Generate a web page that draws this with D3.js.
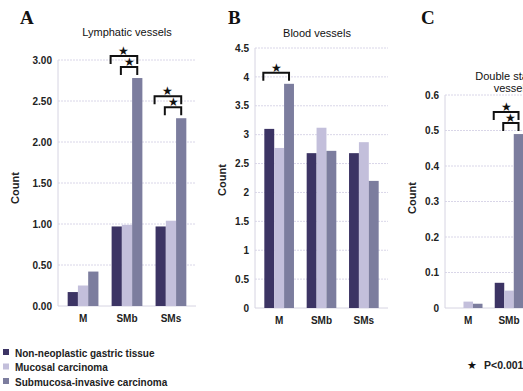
<!DOCTYPE html>
<html>
<head>
<meta charset="utf-8">
<script src="https://cdn.jsdelivr.net/npm/d3@7"></script>
<style>
  body { margin: 0; background: #fff; }
  svg { display: block; font-family: "Liberation Sans", Arial, sans-serif; }
  .tick text { font-size: 10px; font-weight: bold; fill: #222; }
  .grid line { stroke: #d9d6e8; stroke-dasharray: 2,1; }
</style>
</head>
<body>
<svg id="chart" width="523" height="391"></svg>
<script>
/* Three grouped-bar panels: vessel counts by invasion depth */
const categories = ["M", "SMb", "SMs"];
const groups = ["Non-neoplastic gastric tissue", "Mucosal carcinoma", "Submucosa-invasive carcinoma"];
const colors = ["#3c3464", "#c3bfdb", "#7c7d9e"];

// values per category, order = groups
const lymphatic = [[0.17, 0.25, 0.42], [0.97, 0.99, 2.78], [0.97, 1.04, 2.29]];
const blood = [[3.10, 2.77, 3.88], [2.68, 3.12, 2.72], [2.68, 2.87, 2.20]];
const doubleStained = [[0.0, 0.018, 0.012], [0.071, 0.049, 0.49]]; // SMs cut off in picture

const ticksA = [0, 0.5, 1, 1.5, 2, 2.5, 3];
const ticksB = [0, 0.5, 1, 1.5, 2, 2.5, 3, 3.5, 4, 4.5];
const ticksC = [0, 0.1, 0.2, 0.3, 0.4, 0.5, 0.6];

// significance brackets: [category index, left bar index, level]
const sigA = [[1, 0, 0], [1, 1, 1], [2, 0, 0], [2, 1, 1]];
const sigB = [[0, 0, 1]];
const sigC = [[1, 0, 0], [1, 1, 1]];

const svg = d3.select("#chart");

function drawPanel(o) {
  const g = svg.append("g");
  const x = d3.scaleBand().domain(categories).range([o.left, o.right])
    .paddingInner(0.3).paddingOuter(0.22);
  const sub = d3.scaleBand().domain(d3.range(3)).range([0, x.bandwidth()]);
  const y = d3.scaleLinear().domain([0, o.max]).range([o.bottom, o.top]);

  // gridlines
  g.append("g").attr("class", "grid")
    .selectAll("line").data(o.ticks.slice(1)).join("line")
    .attr("x1", o.left).attr("x2", o.right)
    .attr("y1", d => y(d)).attr("y2", d => y(d));
  g.append("line").attr("x1", o.left).attr("x2", o.left)
    .attr("y1", o.bottom).attr("y2", o.top).attr("stroke", "#d6d4e2");
  g.append("line").attr("x1", o.left).attr("x2", o.right)
    .attr("y1", o.bottom).attr("y2", o.bottom).attr("stroke", "#d6d4e2");

  // axes
  const ya = g.append("g").attr("transform", `translate(${o.left},0)`)
    .call(d3.axisLeft(y).tickValues(o.ticks).tickFormat(o.fmt).tickSize(0).tickPadding(6));
  ya.select(".domain").remove();
  const xa = g.append("g").attr("transform", `translate(0,${o.bottom})`)
    .call(d3.axisBottom(x).tickSize(0).tickPadding(9));
  xa.select(".domain").remove();

  // bars
  o.data.forEach((vals, ci) => {
    g.selectAll(null).data(vals).join("rect")
      .attr("x", (d, i) => x(categories[ci]) + sub(i))
      .attr("width", sub.bandwidth())
      .attr("y", d => y(d))
      .attr("height", d => o.bottom - y(d))
      .attr("fill", (d, i) => colors[i]);
  });

  // significance brackets
  o.sig.forEach(([ci, bi, lvl]) => {
    const cat = categories[ci];
    const x1 = x(cat) + sub(bi) - 1;
    const x2 = x(cat) + sub(2) + sub.bandwidth() / 2;
    const barTop = y(o.data[ci][2]);
    const yb = barTop - 11 - (1 - lvl) * 11;
    g.append("path")
      .attr("d", `M${x1},${yb + 8}V${yb}H${x2}V${yb + 8}`)
      .attr("fill", "none").attr("stroke", "#111").attr("stroke-width", 2);
    g.append("text").attr("x", (x1 + x2) / 2).attr("y", yb - 1)
      .attr("text-anchor", "middle").attr("font-size", 12).attr("fill", "#111")
      .text("\u2605");
  });

  // labels
  g.append("text").attr("x", o.letterX).attr("y", 24)
    .attr("font-family", "Liberation Serif, Times New Roman, serif")
    .attr("font-weight", "bold").attr("font-size", 19).attr("fill", "#111").text(o.letter);
  o.title.forEach((t, i) => {
    g.append("text").attr("x", o.titleX).attr("y", o.titleY + i * 12)
      .attr("text-anchor", "middle").attr("font-size", 11).attr("fill", "#111").text(t);
  });
  g.append("text").attr("transform", `translate(${o.countX},${o.countY}) rotate(-90)`)
    .attr("text-anchor", "middle").attr("font-size", 11).attr("font-weight", "bold")
    .attr("fill", "#222").text("Count");
}

drawPanel({
  data: lymphatic, ticks: ticksA, max: 3, fmt: d3.format(".2f"), sig: sigA,
  left: 58, right: 196, top: 60, bottom: 306,
  letter: "A", letterX: 20, title: ["Lymphatic vessels"], titleX: 127, titleY: 36,
  countX: 19, countY: 188
});
drawPanel({
  data: blood, ticks: ticksB, max: 4.5, fmt: d => d3.format("")(d), sig: sigB,
  left: 255, right: 388, top: 48, bottom: 308,
  letter: "B", letterX: 228, title: ["Blood vessels"], titleX: 317, titleY: 37,
  countX: 226, countY: 180
});
drawPanel({
  data: doubleStained, ticks: ticksC, max: 0.6, fmt: d => d3.format("")(d), sig: sigC,
  left: 445, right: 573, top: 95, bottom: 308,
  letter: "C", letterX: 421, title: ["Double stained", "vessels"], titleX: 512, titleY: 80,
  countX: 416, countY: 198
});

// legend
const leg = svg.append("g").attr("transform", "translate(3,353)");
groups.forEach((name, i) => {
  const row = leg.append("g").attr("transform", `translate(0,${i * 14.5})`);
  row.append("rect").attr("x", 0).attr("y", -4).attr("width", 6).attr("height", 6).attr("fill", colors[i]);
  row.append("text").attr("x", 12).attr("y", 3.5).attr("font-size", 10)
    .attr("font-weight", "bold").attr("fill", "#222").text(name);
});

// p-value note
svg.append("text").attr("x", 467).attr("y", 369).attr("font-size", 11).attr("fill", "#111").text("\u2605");
svg.append("text").attr("x", 484).attr("y", 369).attr("font-size", 10.5)
  .attr("font-weight", "bold").attr("fill", "#222").text("P<0.001");
</script>
</body>
</html>
